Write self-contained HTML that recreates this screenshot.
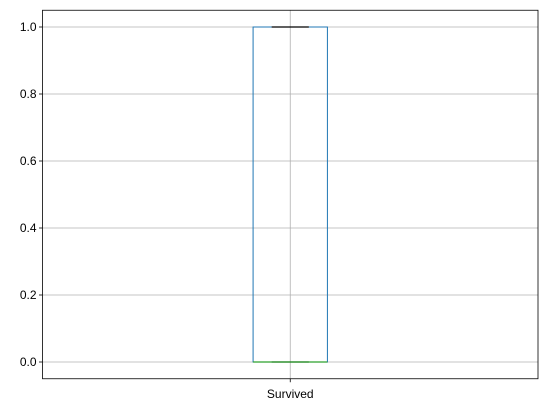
<!DOCTYPE html>
<html><head><meta charset="utf-8"><style>
html,body{margin:0;padding:0;background:#fff;}
svg text{font-family:"Liberation Sans","DejaVu Sans",sans-serif;font-size:12px;fill:#000;}
</style></head><body>
<svg id="chart" width="547" height="413" xmlns="http://www.w3.org/2000/svg"></svg>
<script>
const categories = ["Survived"];
const q1Values = [0];
const medianValues = [0];
const q3Values = [1];
const whiskerLow = [0];
const whiskerHigh = [1];
const yTicks = [0.0, 0.2, 0.4, 0.6, 0.8, 1.0];
const yTickLabels = ["0.0", "0.2", "0.4", "0.6", "0.8", "1.0"];

const L = 42.5, R = 538, T = 10.25, B = 378.75;
const yMin = -0.05, yMax = 1.05;
const y = v => B - (v - yMin) / (yMax - yMin) * (B - T);
const x = i => L + ((i + 1) - 0.5) / 1.0 * (R - L);
const boxW = 0.15 * (R - L);
const NS = "http://www.w3.org/2000/svg";
const svg = document.getElementById("chart");
function mk(tag, attrs, parent) {
  const e = document.createElementNS(NS, tag);
  for (const k in attrs) e.setAttribute(k, attrs[k]);
  (parent || svg).appendChild(e);
  return e;
}
yTicks.forEach((t, i) => {
  const g = mk("line", {x1: L, x2: R, y1: y(t), y2: y(t), stroke: "#b0b0b0", "stroke-width": 0.8});
  
  
  const tk = mk("line", {x1: L - 3.5, x2: L, y1: y(t), y2: y(t), stroke: "#000", "stroke-width": 0.8});
  
  
  const tx = mk("text", {x: L - 6, y: y(t) + 4, "text-anchor": "end"});
  tx.textContent = yTickLabels[i];
  
  
});
categories.forEach((c, i) => {
  const cx = x(i);
  const vg = mk("line", {x1: cx, x2: cx, y1: T, y2: B, stroke: "#b0b0b0", "stroke-width": 0.8});
  
  
  const box = mk("rect", {x: cx - boxW/2, y: y(q3Values[i]), width: boxW, height: y(q1Values[i]) - y(q3Values[i]), fill: "none", stroke: "#1f77b4", "stroke-width": 1});
  
  
  const w1 = mk("line", {x1: cx, x2: cx, y1: y(q3Values[i]), y2: y(whiskerHigh[i]), stroke: "#1f77b4"});
  
  
  const w2 = mk("line", {x1: cx, x2: cx, y1: y(q1Values[i]), y2: y(whiskerLow[i]), stroke: "#1f77b4"});
  
  
  const c1 = mk("line", {x1: cx - boxW/4, x2: cx + boxW/4, y1: y(whiskerHigh[i]), y2: y(whiskerHigh[i]), stroke: "#000", "stroke-width": 1.2});
  
  
  const c2 = mk("line", {x1: cx - boxW/4, x2: cx + boxW/4, y1: y(whiskerLow[i]), y2: y(whiskerLow[i]), stroke: "#000", "stroke-width": 1.2});
  
  
  const md = mk("line", {x1: cx - boxW/2, x2: cx + boxW/2, y1: y(medianValues[i]), y2: y(medianValues[i]), stroke: "#2ca02c", "stroke-width": 1.2});
  
  
  const xt = mk("line", {x1: cx, x2: cx, y1: B, y2: B + 3.5, stroke: "#000", "stroke-width": 0.8});
  
  
  const xl = mk("text", {x: cx, y: B + 19, "text-anchor": "middle"});
  xl.textContent = c;
  
  
});
const frame = mk("rect", {x: L, y: T, width: R - L, height: B - T, fill: "none", stroke: "#000", "stroke-width": 0.8});


</script>
</body></html>
